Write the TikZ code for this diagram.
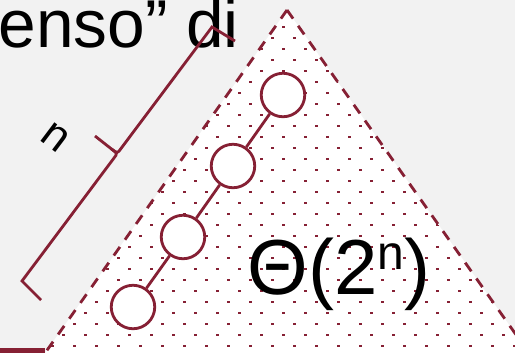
\documentclass[tikz,border=0pt]{standalone}
\usepackage{fontspec}
\setmainfont{Liberation Sans}
\usetikzlibrary{positioning,calc}
\definecolor{wine}{RGB}{134,32,52}
\definecolor{slide}{RGB}{242,242,242}
\tikzset{  knot/.style={circle,draw=wine,fill=white,line width=1.6pt,minimum size=0.87cm,inner sep=0pt} }
\tikzset{  rim/.style={draw=wine,line width=1.6pt,dash pattern=on 6pt off 5pt} }
\newcommand{\fs}[1]{\fontsize{#1}{#1}\selectfont}

\begin{document}
\begin{tikzpicture}[x=0.02cm,y=-0.02cm,line width=1.6pt]
    \clip (0,0) rectangle (515,353);
    \fill[slide] (0,0) rectangle (515,353);
    \coordinate (apex) at (287,10);
    \coordinate (lt) at (-5,424);
    \coordinate (rt) at (579,424);
    \fill[white] (apex) -- (lt) -- (rt) -- cycle;
    \begin{scope}
      \clip (apex) -- (lt) -- (rt) -- cycle;
      \foreach \i in {-14,...,11} \foreach \j in {0,...,15} {
        \fill[wine] (282.1+22*\i,25.5+22*\j) rectangle ++(2.4,2.4);
        \fill[wine] (293.1+22*\i,36.5+22*\j) rectangle ++(2.4,2.4);
      }
    \end{scope}
    \draw[rim] (apex) -- (lt) (apex) -- (rt);
    \fill[wine] (0,347.5) rectangle (45,353);
    \node[anchor=base west,inner sep=0pt,font=\fs{38.5}] (title) at (-3,47) {enso” di};
    \node[anchor=base west,inner sep=0pt,font=\fs{44.4}] (order) at (246,294) {Θ(2\raisebox{13.7pt}{\fs{27.3}n})};
    \node[rotate=-37,inner sep=0pt,font=\fs{25}] (len) at (55,137) {n};
    \coordinate (bt) at (235,41);
    \coordinate (btc) at (212,27);
    \coordinate (ba) at (121,148.5);
    \coordinate (bc) at (117.5,153.5);
    \coordinate (bm) at (111.5,149);
    \coordinate (tip) at (95,136);
    \coordinate (bb) at (114,158);
    \coordinate (blc) at (22,281);
    \coordinate (bl) at (41,300);
    \draw[wine] (bt) -- (btc) -- (ba) .. controls (bc) .. (bm) -- (tip);
    \draw[wine] (bm) .. controls (bc) .. (bb) -- (blc) -- (bl);
    \node[knot] (k1) at (283,95) {};
    \node[knot] (k2) at (233,166) {};
    \node[knot] (k3) at (183,237) {};
    \node[knot] (k4) at (133,307) {};
    \draw[wine] (k1) -- (k2);
    \draw[wine] (k2) -- (k3);
    \draw[wine] (k3) -- (k4);
\end{tikzpicture}
\end{document}
